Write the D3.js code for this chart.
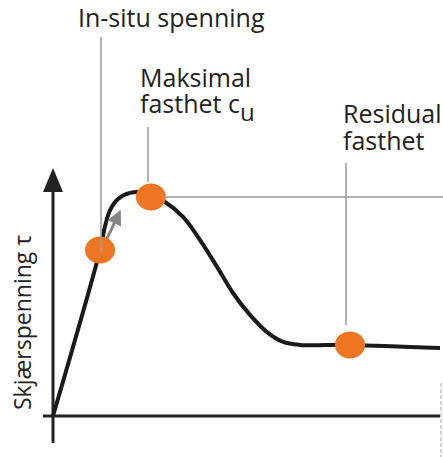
<!DOCTYPE html>
<html>
<head>
<meta charset="utf-8">
<script src="https://cdn.jsdelivr.net/npm/d3@7"></script>
<style>
  body { margin: 0; background: #fff; }
  svg text { font-family: "Open Sans", sans-serif; fill: #222; }
</style>
</head>
<body>
<div id="chart"></div>
<script>
// shear strain (arbitrary units) vs shear stress (arbitrary units)
const strain = [0, 2.43, 2.69, 2.95, 3.36, 3.98, 4.75, 5.79, 6.72, 7.60, 8.48, 9.30, 10.18, 11.06, 11.89, 12.76, 15.35, 20];
const stress = [0, 67.5, 77.2, 83.7, 88.2, 90.7, 90.7, 87.0, 80.9, 71.5, 60.6, 50.0, 41.1, 34.1, 30.1, 28.9, 28.9, 27.6];

// marked points
const pointNames = ["In-situ spenning", "Maksimal fasthet", "Residual fasthet"];
const pointStrain = [2.43, 5.06, 15.35];
const pointStress = [67.5, 89.0, 28.9];

const yLabel = "Skjærspenning τ";

const width = 443, height = 457;
const svg = d3.select("#chart").append("svg")
  .attr("width", width)
  .attr("height", height);

const x = d3.scaleLinear().domain([0, 20]).range([53, 440]);
const y = d3.scaleLinear().domain([0, 100]).range([416, 170]);

const grey = "#9a9a9a";
const orange = "#ee7623";

// dashed crop mark at the right edge
svg.append("line")
  .attr("x1", 441).attr("x2", 441)
  .attr("y1", 383).attr("y2", height)
  .style("stroke", "#aaa").style("stroke-width", 1)
  .style("stroke-dasharray", "4,2");

// axes
svg.append("line")
  .attr("x1", x(0) - 10).attr("x2", x(20))
  .attr("y1", y(0)).attr("y2", y(0))
  .style("stroke", "#222").style("stroke-width", 3);
svg.append("line")
  .attr("x1", x(0)).attr("x2", x(0))
  .attr("y1", y(0) + 27).attr("y2", y(100) + 20)
  .style("stroke", "#222").style("stroke-width", 3);
svg.append("path")
  .attr("d", `M${x(0)},${y(100) - 2} L${x(0) - 10},${y(100) + 22} L${x(0) + 10},${y(100) + 22} Z`)
  .style("fill", "#222");

// y label
svg.append("text")
  .attr("transform", `translate(31, 410) rotate(-90)`)
  .style("font-size", "23px")
  .text(yLabel);

// reference line at maximum strength
svg.append("line")
  .attr("x1", x(pointStrain[1]) + 15).attr("x2", width)
  .attr("y1", y(pointStress[1])).attr("y2", y(pointStress[1]))
  .style("stroke", grey).style("stroke-width", 1.5);

// curve
const curveData = strain.map((s, i) => [s, stress[i]]);
const line = d3.line()
  .x(d => x(d[0]))
  .y(d => y(d[1]))
  .curve(d3.curveCatmullRom.alpha(0.5));

svg.append("path")
  .datum(curveData)
  .attr("d", line)
  .style("fill", "none")
  .style("stroke", "#1a1a1a")
  .style("stroke-width", 4);

// small grey arrow toward peak
svg.append("defs").append("marker")
  .attr("id", "head")
  .attr("viewBox", "0 0 10 10")
  .attr("refX", 4).attr("refY", 5)
  .attr("markerWidth", 5).attr("markerHeight", 5)
  .attr("orient", "auto")
  .append("path")
  .attr("d", "M0,0 L10,5 L0,10 Z")
  .style("fill", "#858585");
svg.append("line")
  .attr("x1", x(2.72)).attr("y1", y(71))
  .attr("x2", x(3.3)).attr("y2", y(80.5))
  .style("stroke", "#858585").style("stroke-width", 3)
  .attr("marker-end", "url(#head)");

// dots
svg.selectAll(".dot")
  .data(pointNames)
  .join("ellipse")
  .attr("class", "dot")
  .attr("cx", (d, i) => x(pointStrain[i]))
  .attr("cy", (d, i) => y(pointStress[i]))
  .attr("rx", 15).attr("ry", 13.5)
  .style("fill", orange);

// leader lines
const leaders = [[37, 252], [127, 182], [163, 325]];
const leaderX = [101, 148, 346];
svg.selectAll(".leader")
  .data(leaders)
  .join("line")
  .attr("class", "leader")
  .attr("x1", (d, i) => leaderX[i]).attr("x2", (d, i) => leaderX[i])
  .attr("y1", d => d[0]).attr("y2", d => d[1])
  .style("stroke", grey).style("stroke-width", 1.5);

// labels
const fs = "25px";
svg.append("text").attr("x", 78).attr("y", 27).style("font-size", fs).text("In-situ spenning");

svg.append("text").attr("x", 140).attr("y", 87).style("font-size", fs).text("Maksimal");
const t2 = svg.append("text").attr("x", 140).attr("y", 113).style("font-size", fs);
t2.append("tspan").text("fasthet c");
t2.append("tspan").attr("dy", 8).style("font-size", "24px").text("u");

svg.append("text").attr("x", 343).attr("y", 123).style("font-size", fs).text("Residual");
svg.append("text").attr("x", 343).attr("y", 150).style("font-size", fs).text("fasthet");
</script>
</body>
</html>
